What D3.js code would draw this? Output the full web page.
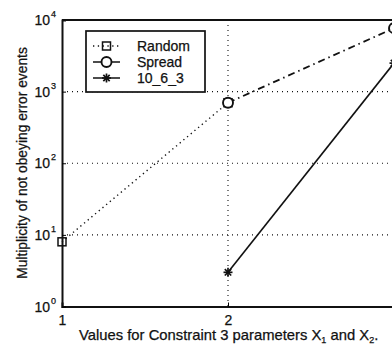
<!DOCTYPE html>
<html><head><meta charset="utf-8">
<script src="https://cdn.jsdelivr.net/npm/d3@7"></script>
<style>body{margin:0;background:#fff}svg{display:block}text{font-family:"Liberation Sans",Arial,sans-serif;fill:#111;stroke:#111;stroke-width:0.25px}</style>
</head><body><svg id="c" width="392" height="344"></svg>
<script>
const seriesNames = ["Random", "Spread", "10_6_3"];
const randomX = [1, 2], randomY = [8, 700];
const spreadX = [2, 3], spreadY = [700, 7700];
const tenX = [2, 3], tenY = [3, 2500];
const xTicks = [1, 2];
const yTicks = [1, 10, 100, 1000, 10000];
const yExp = [0, 1, 2, 3, 4];

const svg = d3.select("#c");
const x = d3.scaleLinear().domain([1, 3]).range([62, 394]);
const y = d3.scaleLog().domain([1, 10000]).range([306.5, 20]);
const ink = "#111";

// grid
const g = svg.append("g");
g.selectAll(".gx").data(xTicks.slice(1)).join("line")
  .attr("x1", d => x(d)).attr("x2", d => x(d)).attr("y1", y(10000)).attr("y2", y(1))
  .attr("stroke", ink).attr("stroke-width", 1.1).attr("stroke-dasharray", "1,4");
g.selectAll(".gy").data(yTicks.slice(1, -1)).join("line")
  .attr("x1", x(1)).attr("x2", 394).attr("y1", d => y(d)).attr("y2", d => y(d))
  .attr("stroke", ink).attr("stroke-width", 1.1).attr("stroke-dasharray", "1,4");

// axes
const xa = svg.append("g").attr("transform", `translate(0,${y(1)})`)
  .call(d3.axisBottom(x).tickValues(xTicks).tickSize(-4).tickPadding(8).tickFormat(d3.format("d")));
xa.select(".domain").attr("stroke", ink).attr("stroke-width", 2);
xa.selectAll("text").attr("font-size", 14).attr("dy", "0.72em");
const ya = svg.append("g").attr("transform", `translate(${x(1)},0)`)
  .call(d3.axisLeft(y).tickValues(yTicks).tickSize(-4).tickFormat(() => ""));
ya.select(".domain").attr("stroke", ink).attr("stroke-width", 2);
svg.append("line").attr("x1", x(1)).attr("x2", 394).attr("y1", y(10000)).attr("y2", y(10000))
  .attr("stroke", ink).attr("stroke-width", 2);

// y tick labels 10^n
const yl = svg.append("g");
yTicks.forEach((v, i) => {
  yl.append("text").attr("x", 50).attr("y", y(v) + 5).attr("text-anchor", "end").attr("font-size", 14).text("10");
  yl.append("text").attr("x", 51).attr("y", y(v) - 3).attr("font-size", 9).text(yExp[i]);
});

// lines
const line = d3.line().x(d => x(d[0])).y(d => y(d[1]));
const zip = (a, b) => a.map((v, i) => [v, b[i]]);
svg.append("path").attr("d", line(zip(randomX, randomY))).attr("fill", "none")
  .attr("stroke", ink).attr("stroke-width", 1.4).attr("stroke-dasharray", "1.3,3.5");
svg.append("path").attr("d", line(zip(spreadX, spreadY))).attr("fill", "none")
  .attr("stroke", ink).attr("stroke-width", 1.8).attr("stroke-dasharray", "7,4,1.5,4");
svg.append("path").attr("d", line(zip(tenX, tenY))).attr("fill", "none")
  .attr("stroke", ink).attr("stroke-width", 1.6);

function square(sel, cx, cy) {
  sel.append("rect").attr("x", cx - 4).attr("y", cy - 4).attr("width", 8).attr("height", 8)
    .attr("fill", "none").attr("stroke", ink).attr("stroke-width", 1.5);
}
function circle(sel, cx, cy) {
  sel.append("circle").attr("cx", cx).attr("cy", cy).attr("r", 5)
    .attr("fill", "#fff").attr("stroke", ink).attr("stroke-width", 1.9);
}
function star(sel, cx, cy) {
  const r = 4.5;
  [0, 45, 90, 135].forEach(a => {
    const rad = a * Math.PI / 180;
    sel.append("line").attr("x1", cx - r * Math.cos(rad)).attr("y1", cy - r * Math.sin(rad))
      .attr("x2", cx + r * Math.cos(rad)).attr("y2", cy + r * Math.sin(rad))
      .attr("stroke", ink).attr("stroke-width", 1.7);
  });
}
const m = svg.append("g");
zip(randomX, randomY).forEach(d => square(m, x(d[0]), y(d[1])));
zip(spreadX, spreadY).forEach(d => circle(m, x(d[0]), y(d[1])));
zip(tenX, tenY).forEach(d => star(m, x(d[0]), y(d[1])));

// legend
const lg = svg.append("g");
lg.append("rect").attr("x", 86).attr("y", 31).attr("width", 119).attr("height", 61)
  .attr("fill", "#fff").attr("stroke", ink).attr("stroke-width", 1.7);
const ly = [46, 62, 78];
const dashes = ["1.3,3.5", null, null];
seriesNames.forEach((n, i) => {
  const l = lg.append("line").attr("x1", 93).attr("x2", 120).attr("y1", ly[i]).attr("y2", ly[i])
    .attr("stroke", ink).attr("stroke-width", 1.5);
  if (dashes[i]) l.attr("stroke-dasharray", dashes[i]);
  [square, circle, star][i](lg, 106.5, ly[i]);
  lg.append("text").attr("x", 137).attr("y", ly[i] + 5).attr("font-size", 14).text(n);
});

// axis titles
svg.append("text").attr("transform", "translate(27,163) rotate(-90)").attr("text-anchor", "middle")
  .attr("font-size", 13.8).text("Multiplicity of not obeying error events");
const xt = svg.append("text").attr("x", 79).attr("y", 340).attr("font-size", 14.8);
xt.append("tspan").text("Values for Constraint 3 parameters X");
xt.append("tspan").attr("font-size", 9).attr("dy", 3).text("1");
xt.append("tspan").attr("dy", -3).text(" and X");
xt.append("tspan").attr("font-size", 9).attr("dy", 3).text("2");
xt.append("tspan").attr("dy", -3).text(".");
</script></body></html>
